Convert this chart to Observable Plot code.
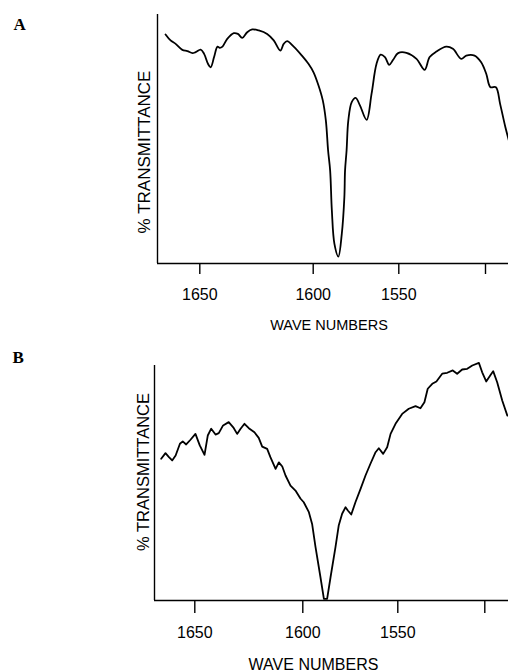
<!DOCTYPE html>
<html>
<head>
<meta charset="utf-8">
<script src="https://cdn.jsdelivr.net/npm/d3@7"></script>
<script src="https://cdn.jsdelivr.net/npm/@observablehq/plot@0.6"></script>
<style>
  html, body { margin: 0; padding: 0; background: #fff; }
  #chart svg { display: block; }
  #chart svg g[aria-label^="x-axis"] line,
  #chart svg g[aria-label^="x-axis"] path { stroke-width: 1.4; }
</style>
</head>
<body>
<div id="chart"></div>
<script>
// ---- Data ----
// Panel A: wave numbers (cm^-1) and % transmittance (relative to axis frame)
const wavenumbersA = [1664.9, 1662.7, 1660.5, 1657.6, 1655.4, 1653.2, 1651.8, 1649.6, 1648.1, 1646.4, 1645.2, 1643.7, 1642.2, 1641.2, 1640.0, 1637.9, 1635.0, 1633.2, 1631.3, 1629.1, 1626.9, 1624.0, 1620.3, 1617.4, 1614.5, 1613.0, 1611.5, 1608.6, 1605.0, 1602.1, 1599.8, 1596.9, 1594.4, 1592.6, 1591.3, 1590.1, 1589.1, 1587.6, 1585.3, 1583.3, 1581.8, 1581.4, 1580.5, 1579.5, 1577.5, 1575.2, 1572.7, 1568.8, 1565.9, 1563.0, 1560.6, 1558.1, 1555.6, 1553.3, 1550.4, 1545.6, 1539.8, 1535.1, 1532.2, 1528.3, 1522.6, 1518.8, 1514.0, 1511.1, 1506.3, 1502.5, 1499.6, 1497.3, 1494.3, 1492.0, 1489.1, 1487.2];
const transmittanceA = [92.0, 89.6, 88.2, 85.8, 85.3, 84.5, 84.9, 85.9, 84.2, 80.2, 78.8, 82.9, 87.1, 86.6, 87.1, 90.2, 92.5, 92.2, 90.6, 92.9, 94.0, 93.6, 92.2, 89.6, 85.5, 88.2, 89.3, 87.1, 83.5, 80.2, 76.8, 71.5, 65.5, 57.4, 45.4, 37.3, 21.3, 7.9, 2.8, 11.9, 26.6, 37.3, 45.4, 57.4, 64.8, 66.5, 63.5, 57.7, 68.2, 80.2, 83.9, 82.9, 79.8, 81.8, 84.5, 84.6, 82.2, 77.8, 82.9, 85.1, 87.1, 86.2, 82.2, 83.5, 83.5, 80.8, 76.2, 70.8, 70.8, 64.1, 54.7, 49.4];

// Panel B
const wavenumbersB = [1665.6, 1663.6, 1662.0, 1660.5, 1658.9, 1656.9, 1655.6, 1654.0, 1652.0, 1649.7, 1647.7, 1645.5, 1644.0, 1642.4, 1640.4, 1638.9, 1636.9, 1634.3, 1632.2, 1630.4, 1628.8, 1627.0, 1625.0, 1622.4, 1620.4, 1618.8, 1616.5, 1615.0, 1612.6, 1611.1, 1609.5, 1608.0, 1605.7, 1603.4, 1601.1, 1599.5, 1596.8, 1595.1, 1593.3, 1590.7, 1588.9, 1587.2, 1585.4, 1582.8, 1581.1, 1579.3, 1577.5, 1576.3, 1574.5, 1572.3, 1569.6, 1567.0, 1564.4, 1561.7, 1560.0, 1557.7, 1555.6, 1553.8, 1551.2, 1547.5, 1543.7, 1539.8, 1537.0, 1534.7, 1532.8, 1530.2, 1527.8, 1524.5, 1521.6, 1518.4, 1515.9, 1513.0, 1510.1, 1507.2, 1503.4, 1501.5, 1499.2, 1496.7, 1495.2, 1492.9, 1490.0, 1487.1];
const transmittanceB = [60.3, 62.7, 61.0, 59.6, 61.7, 66.7, 67.7, 66.4, 68.4, 70.9, 66.0, 62.0, 70.2, 73.1, 70.6, 71.2, 74.5, 75.9, 73.7, 70.9, 73.1, 75.2, 73.3, 71.6, 69.2, 65.5, 64.5, 61.0, 56.0, 58.8, 57.0, 53.2, 48.9, 46.8, 43.4, 41.8, 37.6, 32.6, 22.7, 9.9, 0.7, 0.7, 9.9, 22.7, 31.9, 36.9, 39.7, 38.3, 36.6, 41.8, 47.5, 53.2, 58.2, 63.1, 64.8, 62.4, 65.2, 70.9, 75.2, 79.4, 81.6, 82.7, 81.8, 84.4, 90.1, 92.2, 93.2, 96.5, 96.9, 97.9, 96.5, 98.3, 98.6, 100.0, 101.1, 97.1, 93.2, 96.0, 97.6, 92.9, 85.1, 78.7];

// Axis ticks (the chart-recorder paper is not exactly linear, so the scale is piecewise)
const tickValues = [1650, 1600, 1550, 1500];
const tickLabels = ["1650", "1600", "1550", ""];
const panelLetters = ["A", "B"];
const yTitle = "% TRANSMITTANCE";
const xTitle = "WAVE NUMBERS";

const toRows = (wn, t) => wn.map((w, i) => ({wn: w, t: t[i]}));

function panel(cfg) {
  const rows = toRows(cfg.wn, cfg.t);
  return Plot.plot({
    width: 508,
    height: cfg.height,
    marginLeft: cfg.marginLeft,
    marginRight: 0,
    marginTop: cfg.marginTop,
    marginBottom: cfg.marginBottom,
    style: {fontFamily: "'Liberation Sans', Arial, sans-serif", fontSize: "16px", color: "black", background: "white", overflow: "visible"},
    x: {
      type: "linear",
      domain: cfg.xDomain,
      range: cfg.xRange,
      ticks: tickValues,
      tickFormat: d => tickLabels[tickValues.indexOf(d)],
      tickSize: cfg.tickSize,
      tickPadding: cfg.tickPadding,
      label: null
    },
    y: {domain: [0, 100], axis: null},
    marks: [
      Plot.ruleY([0], {stroke: "black", strokeWidth: 1.4}),
      Plot.ruleX([cfg.xDomain[0]], {stroke: "black", strokeWidth: 1.4}),
      Plot.line(rows, {x: "wn", y: "t", stroke: "black", strokeWidth: 1.8, curve: cfg.curve}),
      Plot.text([cfg.letter], {frameAnchor: "top-left", textAnchor: "start", lineAnchor: "bottom",
        dx: cfg.letterDx, dy: cfg.letterDy, fontFamily: "'Liberation Serif', 'Times New Roman', serif",
        fontWeight: "bold", fontSize: 17, fill: "black"}),
      Plot.text([yTitle], {frameAnchor: "left", rotate: -90, textAnchor: "middle", lineAnchor: "bottom",
        dx: cfg.yDx, dy: cfg.yDy, fontSize: cfg.yFont, fill: "black"}),
      Plot.text([xTitle], {frameAnchor: "bottom", textAnchor: "middle", lineAnchor: "bottom",
        dx: cfg.xDx, dy: cfg.xDy, fontSize: cfg.xFont, fill: "black"})
    ]
  });
}

const chartA = panel({
  letter: panelLetters[0], wn: wavenumbersA, t: transmittanceA,
  height: 335, marginLeft: 157, marginTop: 14, marginBottom: 72,
  xDomain: [1668.4, 1650, 1600, 1550, 1500, 1487.4],
  xRange: [157, 199.3, 312.7, 398.3, 485, 508],
  tickSize: 11, tickPadding: 14, curve: "catmull-rom",
  letterDx: -144, letterDy: 15,
  yDx: -8, yDy: 13, yFont: 17,
  xDx: -4, xDy: 66, xFont: 14.5
});

const chartB = panel({
  letter: panelLetters[1], wn: wavenumbersB, t: transmittanceB,
  height: 336, marginLeft: 154, marginTop: 30, marginBottom: 71,
  xDomain: [1668.7, 1650, 1600, 1550, 1500, 1486.4],
  xRange: [154, 194.3, 302.3, 397.3, 484.3, 508],
  tickSize: 13, tickPadding: 13, curve: "linear",
  letterDx: -142, letterDy: -3,
  yDx: -6, yDy: -11, yFont: 16.5,
  xDx: -18, xDy: 69, xFont: 16
});

const root = document.getElementById("chart");
root.appendChild(chartA);
root.appendChild(chartB);
</script>
</body>
</html>
